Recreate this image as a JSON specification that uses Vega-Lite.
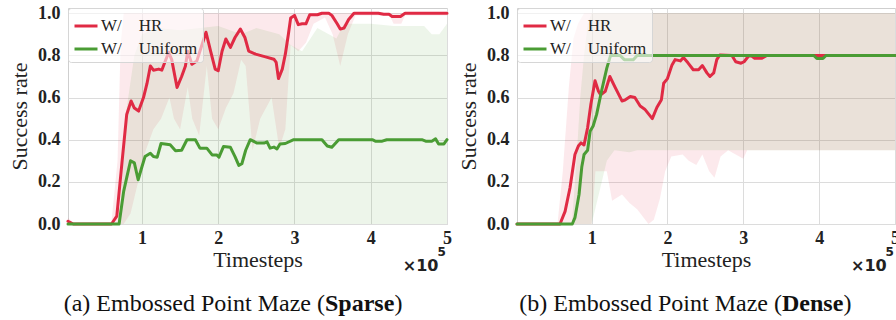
{
  "$schema": "https://vega.github.io/schema/vega-lite/v6.json",
  "padding": {"left": 8, "top": 3, "right": 2, "bottom": 2},
  "bounds": "flush",
  "spacing": 70,
  "background": "white",
  "datasets": {
    "sparse_mean": [
      {"method": "HR", "t": 0.03, "rate": 0.013}, {"method": "HR", "t": 0.1, "rate": 0.0}, {"method": "HR", "t": 0.6, "rate": 0.0},
      {"method": "HR", "t": 0.67, "rate": 0.037}, {"method": "HR", "t": 0.74, "rate": 0.3}, {"method": "HR", "t": 0.8, "rate": 0.52},
      {"method": "HR", "t": 0.857, "rate": 0.584}, {"method": "HR", "t": 0.9, "rate": 0.55}, {"method": "HR", "t": 0.956, "rate": 0.536},
      {"method": "HR", "t": 1.02, "rate": 0.6}, {"method": "HR", "t": 1.066, "rate": 0.667}, {"method": "HR", "t": 1.11, "rate": 0.75},
      {"method": "HR", "t": 1.15, "rate": 0.73}, {"method": "HR", "t": 1.22, "rate": 0.735}, {"method": "HR", "t": 1.26, "rate": 0.73},
      {"method": "HR", "t": 1.35, "rate": 0.815}, {"method": "HR", "t": 1.39, "rate": 0.78}, {"method": "HR", "t": 1.46, "rate": 0.648},
      {"method": "HR", "t": 1.52, "rate": 0.7}, {"method": "HR", "t": 1.57, "rate": 0.75}, {"method": "HR", "t": 1.6, "rate": 0.82},
      {"method": "HR", "t": 1.655, "rate": 0.758}, {"method": "HR", "t": 1.72, "rate": 0.774}, {"method": "HR", "t": 1.79, "rate": 0.854},
      {"method": "HR", "t": 1.84, "rate": 0.91}, {"method": "HR", "t": 1.9, "rate": 0.82}, {"method": "HR", "t": 1.96, "rate": 0.735},
      {"method": "HR", "t": 2.0, "rate": 0.727}, {"method": "HR", "t": 2.05, "rate": 0.82}, {"method": "HR", "t": 2.1, "rate": 0.878},
      {"method": "HR", "t": 2.16, "rate": 0.838}, {"method": "HR", "t": 2.22, "rate": 0.885}, {"method": "HR", "t": 2.29, "rate": 0.925},
      {"method": "HR", "t": 2.35, "rate": 0.885}, {"method": "HR", "t": 2.4, "rate": 0.82}, {"method": "HR", "t": 2.49, "rate": 0.806},
      {"method": "HR", "t": 2.62, "rate": 0.793}, {"method": "HR", "t": 2.73, "rate": 0.782}, {"method": "HR", "t": 2.76, "rate": 0.767},
      {"method": "HR", "t": 2.79, "rate": 0.69}, {"method": "HR", "t": 2.84, "rate": 0.735}, {"method": "HR", "t": 2.88, "rate": 0.806},
      {"method": "HR", "t": 2.92, "rate": 0.9}, {"method": "HR", "t": 2.95, "rate": 0.978}, {"method": "HR", "t": 3.0, "rate": 0.99},
      {"method": "HR", "t": 3.05, "rate": 0.946}, {"method": "HR", "t": 3.1, "rate": 0.95}, {"method": "HR", "t": 3.15, "rate": 0.95},
      {"method": "HR", "t": 3.2, "rate": 0.993}, {"method": "HR", "t": 3.3, "rate": 0.993}, {"method": "HR", "t": 3.36, "rate": 1.0},
      {"method": "HR", "t": 3.45, "rate": 1.0}, {"method": "HR", "t": 3.49, "rate": 0.99}, {"method": "HR", "t": 3.56, "rate": 0.95},
      {"method": "HR", "t": 3.6, "rate": 0.925}, {"method": "HR", "t": 3.65, "rate": 0.93}, {"method": "HR", "t": 3.71, "rate": 0.97},
      {"method": "HR", "t": 3.78, "rate": 1.0}, {"method": "HR", "t": 4.1, "rate": 1.0}, {"method": "HR", "t": 4.17, "rate": 0.995},
      {"method": "HR", "t": 4.24, "rate": 0.995}, {"method": "HR", "t": 4.28, "rate": 0.985}, {"method": "HR", "t": 4.39, "rate": 0.985},
      {"method": "HR", "t": 4.45, "rate": 1.0}, {"method": "HR", "t": 5.0, "rate": 1.0},
      {"method": "Uniform", "t": 0.03, "rate": 0.0}, {"method": "Uniform", "t": 0.7, "rate": 0.0}, {"method": "Uniform", "t": 0.76, "rate": 0.155},
      {"method": "Uniform", "t": 0.8, "rate": 0.22}, {"method": "Uniform", "t": 0.85, "rate": 0.3}, {"method": "Uniform", "t": 0.9, "rate": 0.29},
      {"method": "Uniform", "t": 0.95, "rate": 0.21}, {"method": "Uniform", "t": 0.99, "rate": 0.26}, {"method": "Uniform", "t": 1.04, "rate": 0.32},
      {"method": "Uniform", "t": 1.11, "rate": 0.336}, {"method": "Uniform", "t": 1.15, "rate": 0.32}, {"method": "Uniform", "t": 1.2, "rate": 0.317},
      {"method": "Uniform", "t": 1.25, "rate": 0.382}, {"method": "Uniform", "t": 1.3, "rate": 0.38}, {"method": "Uniform", "t": 1.37, "rate": 0.376},
      {"method": "Uniform", "t": 1.44, "rate": 0.348}, {"method": "Uniform", "t": 1.52, "rate": 0.35}, {"method": "Uniform", "t": 1.59, "rate": 0.4},
      {"method": "Uniform", "t": 1.7, "rate": 0.4}, {"method": "Uniform", "t": 1.76, "rate": 0.36}, {"method": "Uniform", "t": 1.85, "rate": 0.36},
      {"method": "Uniform", "t": 1.92, "rate": 0.328}, {"method": "Uniform", "t": 1.98, "rate": 0.328}, {"method": "Uniform", "t": 2.01, "rate": 0.317},
      {"method": "Uniform", "t": 2.07, "rate": 0.368}, {"method": "Uniform", "t": 2.16, "rate": 0.364}, {"method": "Uniform", "t": 2.22, "rate": 0.32},
      {"method": "Uniform", "t": 2.27, "rate": 0.278}, {"method": "Uniform", "t": 2.31, "rate": 0.286}, {"method": "Uniform", "t": 2.36, "rate": 0.35},
      {"method": "Uniform", "t": 2.42, "rate": 0.4}, {"method": "Uniform", "t": 2.51, "rate": 0.384}, {"method": "Uniform", "t": 2.6, "rate": 0.384},
      {"method": "Uniform", "t": 2.64, "rate": 0.39}, {"method": "Uniform", "t": 2.68, "rate": 0.36}, {"method": "Uniform", "t": 2.73, "rate": 0.365},
      {"method": "Uniform", "t": 2.77, "rate": 0.356}, {"method": "Uniform", "t": 2.81, "rate": 0.38}, {"method": "Uniform", "t": 2.88, "rate": 0.382},
      {"method": "Uniform", "t": 2.99, "rate": 0.4}, {"method": "Uniform", "t": 3.36, "rate": 0.4}, {"method": "Uniform", "t": 3.43, "rate": 0.37},
      {"method": "Uniform", "t": 3.49, "rate": 0.364}, {"method": "Uniform", "t": 3.58, "rate": 0.4}, {"method": "Uniform", "t": 4.02, "rate": 0.4},
      {"method": "Uniform", "t": 4.06, "rate": 0.393}, {"method": "Uniform", "t": 4.15, "rate": 0.393}, {"method": "Uniform", "t": 4.21, "rate": 0.4},
      {"method": "Uniform", "t": 4.67, "rate": 0.4}, {"method": "Uniform", "t": 4.72, "rate": 0.393}, {"method": "Uniform", "t": 4.8, "rate": 0.393},
      {"method": "Uniform", "t": 4.85, "rate": 0.404}, {"method": "Uniform", "t": 4.89, "rate": 0.38}, {"method": "Uniform", "t": 4.96, "rate": 0.38},
      {"method": "Uniform", "t": 5.0, "rate": 0.4}
    ],
    "sparse_band": [
      {"method": "HR", "t": 0.03, "lo": 0, "hi": 0.03}, {"method": "HR", "t": 0.1, "lo": 0, "hi": 0.005}, {"method": "HR", "t": 0.6, "lo": 0, "hi": 0.01},
      {"method": "HR", "t": 0.68, "lo": 0, "hi": 0.3}, {"method": "HR", "t": 0.72, "lo": 0, "hi": 0.85}, {"method": "HR", "t": 0.76, "lo": 0, "hi": 1.0},
      {"method": "HR", "t": 0.85, "lo": 0.05, "hi": 1.0}, {"method": "HR", "t": 0.95, "lo": 0.2, "hi": 1.0}, {"method": "HR", "t": 1.05, "lo": 0.35, "hi": 1.0},
      {"method": "HR", "t": 1.15, "lo": 0.45, "hi": 1.0}, {"method": "HR", "t": 1.25, "lo": 0.5, "hi": 1.0}, {"method": "HR", "t": 1.36, "lo": 0.6, "hi": 1.0},
      {"method": "HR", "t": 1.42, "lo": 0.5, "hi": 1.0}, {"method": "HR", "t": 1.5, "lo": 0.45, "hi": 1.0}, {"method": "HR", "t": 1.6, "lo": 0.65, "hi": 1.0},
      {"method": "HR", "t": 1.66, "lo": 0.5, "hi": 1.0}, {"method": "HR", "t": 1.75, "lo": 0.42, "hi": 1.0}, {"method": "HR", "t": 1.85, "lo": 0.75, "hi": 1.0},
      {"method": "HR", "t": 1.92, "lo": 0.5, "hi": 1.0}, {"method": "HR", "t": 2.0, "lo": 0.45, "hi": 1.0}, {"method": "HR", "t": 2.1, "lo": 0.55, "hi": 1.0},
      {"method": "HR", "t": 2.2, "lo": 0.62, "hi": 1.0}, {"method": "HR", "t": 2.3, "lo": 0.78, "hi": 1.0}, {"method": "HR", "t": 2.36, "lo": 0.75, "hi": 1.0},
      {"method": "HR", "t": 2.45, "lo": 0.35, "hi": 1.0}, {"method": "HR", "t": 2.55, "lo": 0.5, "hi": 1.0}, {"method": "HR", "t": 2.7, "lo": 0.6, "hi": 1.0},
      {"method": "HR", "t": 2.8, "lo": 0.36, "hi": 1.0}, {"method": "HR", "t": 2.88, "lo": 0.45, "hi": 1.0}, {"method": "HR", "t": 2.95, "lo": 0.85, "hi": 1.0},
      {"method": "HR", "t": 3.05, "lo": 0.82, "hi": 1.0}, {"method": "HR", "t": 3.15, "lo": 0.86, "hi": 1.0}, {"method": "HR", "t": 3.25, "lo": 0.95, "hi": 1.0},
      {"method": "HR", "t": 3.4, "lo": 0.98, "hi": 1.0}, {"method": "HR", "t": 3.5, "lo": 0.9, "hi": 1.0}, {"method": "HR", "t": 3.6, "lo": 0.75, "hi": 1.0},
      {"method": "HR", "t": 3.7, "lo": 0.9, "hi": 1.0}, {"method": "HR", "t": 3.8, "lo": 0.99, "hi": 1.0}, {"method": "HR", "t": 4.25, "lo": 0.99, "hi": 1.0},
      {"method": "HR", "t": 4.3, "lo": 0.95, "hi": 1.0}, {"method": "HR", "t": 4.4, "lo": 0.95, "hi": 1.0}, {"method": "HR", "t": 4.45, "lo": 0.99, "hi": 1.0},
      {"method": "HR", "t": 5.0, "lo": 0.99, "hi": 1.0},
      {"method": "Uniform", "t": 0.03, "lo": 0, "hi": 0}, {"method": "Uniform", "t": 0.68, "lo": 0, "hi": 0}, {"method": "Uniform", "t": 0.72, "lo": 0, "hi": 0.1},
      {"method": "Uniform", "t": 0.8, "lo": 0, "hi": 0.55}, {"method": "Uniform", "t": 0.9, "lo": 0, "hi": 0.8}, {"method": "Uniform", "t": 1.0, "lo": 0, "hi": 0.9},
      {"method": "Uniform", "t": 1.2, "lo": 0, "hi": 0.93}, {"method": "Uniform", "t": 1.5, "lo": 0, "hi": 0.92}, {"method": "Uniform", "t": 2.0, "lo": 0, "hi": 0.94},
      {"method": "Uniform", "t": 2.3, "lo": 0, "hi": 0.9}, {"method": "Uniform", "t": 2.5, "lo": 0, "hi": 0.93}, {"method": "Uniform", "t": 2.8, "lo": 0, "hi": 0.9},
      {"method": "Uniform", "t": 2.95, "lo": 0, "hi": 0.85}, {"method": "Uniform", "t": 3.1, "lo": 0, "hi": 0.82}, {"method": "Uniform", "t": 3.3, "lo": 0, "hi": 0.93},
      {"method": "Uniform", "t": 3.45, "lo": 0, "hi": 0.9}, {"method": "Uniform", "t": 3.55, "lo": 0, "hi": 0.88}, {"method": "Uniform", "t": 3.65, "lo": 0, "hi": 0.95},
      {"method": "Uniform", "t": 4.0, "lo": 0, "hi": 0.95}, {"method": "Uniform", "t": 4.3, "lo": 0, "hi": 0.94}, {"method": "Uniform", "t": 4.7, "lo": 0, "hi": 0.94},
      {"method": "Uniform", "t": 4.8, "lo": 0, "hi": 0.9}, {"method": "Uniform", "t": 4.9, "lo": 0, "hi": 0.9}, {"method": "Uniform", "t": 5.0, "lo": 0, "hi": 0.95}
    ],
    "dense_mean": [
      {"method": "HR", "t": 0.016, "rate": 0.0}, {"method": "HR", "t": 0.583, "rate": 0.0}, {"method": "HR", "t": 0.65, "rate": 0.06},
      {"method": "HR", "t": 0.715, "rate": 0.172}, {"method": "HR", "t": 0.78, "rate": 0.33}, {"method": "HR", "t": 0.825, "rate": 0.37},
      {"method": "HR", "t": 0.86, "rate": 0.385}, {"method": "HR", "t": 0.9, "rate": 0.375}, {"method": "HR", "t": 0.947, "rate": 0.457},
      {"method": "HR", "t": 0.99, "rate": 0.568}, {"method": "HR", "t": 1.045, "rate": 0.68}, {"method": "HR", "t": 1.09, "rate": 0.63},
      {"method": "HR", "t": 1.12, "rate": 0.613}, {"method": "HR", "t": 1.18, "rate": 0.63}, {"method": "HR", "t": 1.24, "rate": 0.7},
      {"method": "HR", "t": 1.31, "rate": 0.648}, {"method": "HR", "t": 1.4, "rate": 0.584}, {"method": "HR", "t": 1.44, "rate": 0.588},
      {"method": "HR", "t": 1.51, "rate": 0.605}, {"method": "HR", "t": 1.57, "rate": 0.6}, {"method": "HR", "t": 1.64, "rate": 0.56},
      {"method": "HR", "t": 1.7, "rate": 0.545}, {"method": "HR", "t": 1.8, "rate": 0.5}, {"method": "HR", "t": 1.86, "rate": 0.553},
      {"method": "HR", "t": 1.92, "rate": 0.59}, {"method": "HR", "t": 1.95, "rate": 0.668}, {"method": "HR", "t": 2.0, "rate": 0.69},
      {"method": "HR", "t": 2.06, "rate": 0.755}, {"method": "HR", "t": 2.1, "rate": 0.78}, {"method": "HR", "t": 2.17, "rate": 0.774},
      {"method": "HR", "t": 2.21, "rate": 0.79}, {"method": "HR", "t": 2.27, "rate": 0.765}, {"method": "HR", "t": 2.34, "rate": 0.732},
      {"method": "HR", "t": 2.41, "rate": 0.732}, {"method": "HR", "t": 2.46, "rate": 0.752}, {"method": "HR", "t": 2.52, "rate": 0.717},
      {"method": "HR", "t": 2.56, "rate": 0.7}, {"method": "HR", "t": 2.61, "rate": 0.717}, {"method": "HR", "t": 2.65, "rate": 0.78},
      {"method": "HR", "t": 2.69, "rate": 0.802}, {"method": "HR", "t": 2.85, "rate": 0.8}, {"method": "HR", "t": 2.9, "rate": 0.77},
      {"method": "HR", "t": 2.97, "rate": 0.763}, {"method": "HR", "t": 3.01, "rate": 0.77}, {"method": "HR", "t": 3.07, "rate": 0.797},
      {"method": "HR", "t": 3.11, "rate": 0.797}, {"method": "HR", "t": 3.15, "rate": 0.786}, {"method": "HR", "t": 3.24, "rate": 0.786},
      {"method": "HR", "t": 3.31, "rate": 0.8}, {"method": "HR", "t": 5.0, "rate": 0.8},
      {"method": "Uniform", "t": 0.016, "rate": 0.0}, {"method": "Uniform", "t": 0.745, "rate": 0.0}, {"method": "Uniform", "t": 0.78, "rate": 0.03},
      {"method": "Uniform", "t": 0.834, "rate": 0.14}, {"method": "Uniform", "t": 0.87, "rate": 0.27}, {"method": "Uniform", "t": 0.9, "rate": 0.33},
      {"method": "Uniform", "t": 0.947, "rate": 0.35}, {"method": "Uniform", "t": 0.98, "rate": 0.44}, {"method": "Uniform", "t": 1.02, "rate": 0.465},
      {"method": "Uniform", "t": 1.066, "rate": 0.52}, {"method": "Uniform", "t": 1.13, "rate": 0.63}, {"method": "Uniform", "t": 1.2, "rate": 0.74},
      {"method": "Uniform", "t": 1.25, "rate": 0.8}, {"method": "Uniform", "t": 1.375, "rate": 0.8}, {"method": "Uniform", "t": 1.43, "rate": 0.78},
      {"method": "Uniform", "t": 1.55, "rate": 0.78}, {"method": "Uniform", "t": 1.6, "rate": 0.8}, {"method": "Uniform", "t": 3.93, "rate": 0.8},
      {"method": "Uniform", "t": 3.97, "rate": 0.785}, {"method": "Uniform", "t": 4.05, "rate": 0.785}, {"method": "Uniform", "t": 4.09, "rate": 0.8},
      {"method": "Uniform", "t": 5.0, "rate": 0.8}
    ],
    "dense_band": [
      {"method": "HR", "t": 0.016, "lo": 0, "hi": 0}, {"method": "HR", "t": 0.55, "lo": 0, "hi": 0}, {"method": "HR", "t": 0.62, "lo": 0, "hi": 0.25},
      {"method": "HR", "t": 0.7, "lo": 0, "hi": 0.65}, {"method": "HR", "t": 0.76, "lo": 0, "hi": 0.88}, {"method": "HR", "t": 0.82, "lo": 0, "hi": 0.95},
      {"method": "HR", "t": 0.9, "lo": 0, "hi": 1.0}, {"method": "HR", "t": 1.0, "lo": 0.0, "hi": 1.0}, {"method": "HR", "t": 1.05, "lo": 0.25, "hi": 1.0},
      {"method": "HR", "t": 1.2, "lo": 0.25, "hi": 1.0}, {"method": "HR", "t": 1.27, "lo": 0.11, "hi": 1.0}, {"method": "HR", "t": 1.4, "lo": 0.14, "hi": 1.0},
      {"method": "HR", "t": 1.5, "lo": 0.1, "hi": 1.0}, {"method": "HR", "t": 1.6, "lo": 0.07, "hi": 1.0}, {"method": "HR", "t": 1.75, "lo": 0.0, "hi": 1.0},
      {"method": "HR", "t": 1.82, "lo": 0.02, "hi": 1.0}, {"method": "HR", "t": 1.9, "lo": 0.12, "hi": 1.0}, {"method": "HR", "t": 1.97, "lo": 0.25, "hi": 1.0},
      {"method": "HR", "t": 2.05, "lo": 0.32, "hi": 1.0}, {"method": "HR", "t": 2.2, "lo": 0.33, "hi": 1.0}, {"method": "HR", "t": 2.28, "lo": 0.3, "hi": 1.0},
      {"method": "HR", "t": 2.38, "lo": 0.28, "hi": 1.0}, {"method": "HR", "t": 2.46, "lo": 0.33, "hi": 1.0}, {"method": "HR", "t": 2.55, "lo": 0.25, "hi": 1.0},
      {"method": "HR", "t": 2.62, "lo": 0.22, "hi": 1.0}, {"method": "HR", "t": 2.7, "lo": 0.32, "hi": 1.0}, {"method": "HR", "t": 2.8, "lo": 0.35, "hi": 1.0},
      {"method": "HR", "t": 2.9, "lo": 0.33, "hi": 1.0}, {"method": "HR", "t": 3.0, "lo": 0.31, "hi": 1.0}, {"method": "HR", "t": 3.05, "lo": 0.35, "hi": 1.0},
      {"method": "HR", "t": 5.0, "lo": 0.35, "hi": 1.0},
      {"method": "Uniform", "t": 0.016, "lo": 0, "hi": 0}, {"method": "Uniform", "t": 0.74, "lo": 0, "hi": 0}, {"method": "Uniform", "t": 0.8, "lo": 0, "hi": 0.3},
      {"method": "Uniform", "t": 0.85, "lo": 0, "hi": 0.6}, {"method": "Uniform", "t": 0.9, "lo": 0, "hi": 0.8}, {"method": "Uniform", "t": 0.95, "lo": 0, "hi": 0.95},
      {"method": "Uniform", "t": 1.0, "lo": 0, "hi": 1.0}, {"method": "Uniform", "t": 1.1, "lo": 0.15, "hi": 1.0}, {"method": "Uniform", "t": 1.2, "lo": 0.3, "hi": 1.0},
      {"method": "Uniform", "t": 1.3, "lo": 0.35, "hi": 1.0}, {"method": "Uniform", "t": 1.5, "lo": 0.34, "hi": 1.0}, {"method": "Uniform", "t": 1.6, "lo": 0.35, "hi": 1.0},
      {"method": "Uniform", "t": 5.0, "lo": 0.35, "hi": 1.0}
    ]
  },
  "resolve": {"scale": {"color": "independent"}, "legend": {"color": "independent"}},
  "hconcat": [
    {
      "width": 379,
      "height": 216,
      "layer": [
        {
          "data": {"name": "sparse_band"},
          "transform": [{"filter": "datum.method === 'HR'"}],
          "mark": {"type": "area", "opacity": 0.1, "color": "#e02a44"},
          "encoding": {
            "x": {"field": "t", "type": "quantitative", "title": "Timesteps", "scale": {"domain": [0.03, 5], "nice": false, "zero": false},
                  "axis": {"values": [1, 2, 3, 4, 5], "format": "d", "labelFont": "Liberation Serif", "titleFont": "Liberation Serif"}},
            "y": {"field": "lo", "type": "quantitative", "title": "Success rate", "scale": {"domain": [0, 1.025], "nice": false},
                  "axis": {"values": [0, 0.2, 0.4, 0.6, 0.8, 1.0], "format": ".1f", "labelFont": "Liberation Serif", "titleFont": "Liberation Serif"}},
            "y2": {"field": "hi"}
          }
        },
        {
          "data": {"name": "sparse_band"},
          "transform": [{"filter": "datum.method === 'Uniform'"}],
          "mark": {"type": "area", "opacity": 0.1, "color": "#4a9c34"},
          "encoding": {
            "x": {"field": "t", "type": "quantitative", "title": "Timesteps"},
            "y": {"field": "lo", "type": "quantitative", "title": "Success rate"},
            "y2": {"field": "hi"}
          }
        },
        {
          "data": {"name": "sparse_mean"},
          "mark": {"type": "line", "strokeWidth": 3, "strokeJoin": "round", "strokeCap": "round"},
          "encoding": {
            "x": {"field": "t", "type": "quantitative", "title": "Timesteps"},
            "y": {"field": "rate", "type": "quantitative", "title": "Success rate"},
            "color": {"field": "method", "type": "nominal", "scale": {"domain": ["HR", "Uniform"], "range": ["#e02a44", "#4a9c34"]},
                      "legend": {"orient": "top-left", "title": null, "labelExpr": "'W/\u00a0\u00a0\u00a0\u00a0' + datum.label"}},
            "order": {"field": "method", "sort": "descending"}
          }
        },
        {
          "data": {"values": [{"label": "×10", "sup": "5"}]},
          "mark": {"type": "text", "font": "DejaVu Sans", "fontSize": 16, "fontWeight": "bold", "align": "left", "baseline": "middle", "color": "#222"},
          "encoding": {"text": {"field": "label"}, "x": {"datum": 4.42, "type": "quantitative"}, "y": {"datum": -0.2, "type": "quantitative"}}
        },
        {
          "data": {"values": [{"label": "×10", "sup": "5"}]},
          "mark": {"type": "text", "font": "DejaVu Sans", "fontSize": 12, "fontWeight": "bold", "align": "center", "baseline": "middle", "color": "#222"},
          "encoding": {"text": {"field": "sup"}, "x": {"datum": 4.93, "type": "quantitative"}, "y": {"datum": -0.135, "type": "quantitative"}}
        },
        {
          "data": {"values": [{"head": "(a) Embossed Point Maze (", "bold": "Sparse", "tail": ")"}]},
          "layer": [
            {
              "mark": {"type": "text", "font": "Liberation Serif", "fontSize": 24, "align": "right", "baseline": "middle", "color": "#111"},
              "encoding": {"text": {"field": "head"}, "x": {"datum": 3.4, "type": "quantitative"}, "y": {"datum": -0.38, "type": "quantitative"}}
            },
            {
              "mark": {"type": "text", "font": "Liberation Serif", "fontSize": 24, "fontWeight": "bold", "align": "left", "baseline": "middle", "color": "#111"},
              "encoding": {"text": {"field": "bold"}, "x": {"datum": 3.4, "type": "quantitative"}, "y": {"datum": -0.38, "type": "quantitative"}}
            },
            {
              "mark": {"type": "text", "font": "Liberation Serif", "fontSize": 24, "align": "left", "baseline": "middle", "color": "#111"},
              "encoding": {"text": {"field": "tail"}, "x": {"datum": 4.31, "type": "quantitative"}, "y": {"datum": -0.38, "type": "quantitative"}}
            }
          ]
        }
      ]
    },
    {
      "width": 378,
      "height": 216,
      "layer": [
        {
          "data": {"name": "dense_band"},
          "transform": [{"filter": "datum.method === 'HR'"}],
          "mark": {"type": "area", "opacity": 0.1, "color": "#e02a44"},
          "encoding": {
            "x": {"field": "t", "type": "quantitative", "title": "Timesteps", "scale": {"domain": [0.016, 5], "nice": false, "zero": false},
                  "axis": {"values": [1, 2, 3, 4, 5], "format": "d", "labelFont": "Liberation Serif", "titleFont": "Liberation Serif"}},
            "y": {"field": "lo", "type": "quantitative", "title": "Success rate", "scale": {"domain": [0, 1.025], "nice": false},
                  "axis": {"values": [0, 0.2, 0.4, 0.6, 0.8, 1.0], "format": ".1f", "labelFont": "Liberation Serif", "titleFont": "Liberation Serif"}},
            "y2": {"field": "hi"}
          }
        },
        {
          "data": {"name": "dense_band"},
          "transform": [{"filter": "datum.method === 'Uniform'"}],
          "mark": {"type": "area", "opacity": 0.1, "color": "#4a9c34"},
          "encoding": {
            "x": {"field": "t", "type": "quantitative", "title": "Timesteps"},
            "y": {"field": "lo", "type": "quantitative", "title": "Success rate"},
            "y2": {"field": "hi"}
          }
        },
        {
          "data": {"name": "dense_mean"},
          "mark": {"type": "line", "strokeWidth": 3, "strokeJoin": "round", "strokeCap": "round"},
          "encoding": {
            "x": {"field": "t", "type": "quantitative", "title": "Timesteps"},
            "y": {"field": "rate", "type": "quantitative", "title": "Success rate"},
            "color": {"field": "method", "type": "nominal", "scale": {"domain": ["HR", "Uniform"], "range": ["#e02a44", "#4a9c34"]},
                      "legend": {"orient": "top-left", "title": null, "labelExpr": "'W/\u00a0\u00a0\u00a0\u00a0' + datum.label"}},
            "order": {"field": "method", "sort": "descending"}
          }
        },
        {
          "data": {"values": [{"label": "×10", "sup": "5"}]},
          "mark": {"type": "text", "font": "DejaVu Sans", "fontSize": 16, "fontWeight": "bold", "align": "left", "baseline": "middle", "color": "#222"},
          "encoding": {"text": {"field": "label"}, "x": {"datum": 4.42, "type": "quantitative"}, "y": {"datum": -0.2, "type": "quantitative"}}
        },
        {
          "data": {"values": [{"label": "×10", "sup": "5"}]},
          "mark": {"type": "text", "font": "DejaVu Sans", "fontSize": 12, "fontWeight": "bold", "align": "center", "baseline": "middle", "color": "#222"},
          "encoding": {"text": {"field": "sup"}, "x": {"datum": 4.93, "type": "quantitative"}, "y": {"datum": -0.135, "type": "quantitative"}}
        },
        {
          "data": {"values": [{"head": "(b) Embossed Point Maze (", "bold": "Dense", "tail": ")"}]},
          "layer": [
            {
              "mark": {"type": "text", "font": "Liberation Serif", "fontSize": 24, "align": "right", "baseline": "middle", "color": "#111"},
              "encoding": {"text": {"field": "head"}, "x": {"datum": 3.51, "type": "quantitative"}, "y": {"datum": -0.38, "type": "quantitative"}}
            },
            {
              "mark": {"type": "text", "font": "Liberation Serif", "fontSize": 24, "fontWeight": "bold", "align": "left", "baseline": "middle", "color": "#111"},
              "encoding": {"text": {"field": "bold"}, "x": {"datum": 3.51, "type": "quantitative"}, "y": {"datum": -0.38, "type": "quantitative"}}
            },
            {
              "mark": {"type": "text", "font": "Liberation Serif", "fontSize": 24, "align": "left", "baseline": "middle", "color": "#111"},
              "encoding": {"text": {"field": "tail"}, "x": {"datum": 4.32, "type": "quantitative"}, "y": {"datum": -0.38, "type": "quantitative"}}
            }
          ]
        }
      ]
    }
  ],
  "config": {
    "font": "Liberation Serif",
    "view": {"stroke": "#cfcfcf", "strokeWidth": 1},
    "axis": {
      "grid": true, "gridColor": "#dcdcdc", "gridWidth": 1, "domain": false, "ticks": false,
      "labelFont": "Liberation Serif", "labelFontWeight": "bold", "labelFontSize": 18, "labelColor": "#222",
      "titleFont": "Liberation Serif", "titleFontWeight": "normal", "titleFontSize": 22, "titleColor": "#222",
      "labelFlush": false, "labelOverlap": false, "labelBound": false
    },
    "axisX": {"labelPadding": 5, "titlePadding": 2},
    "axisY": {"labelPadding": 8, "titlePadding": 6},
    "legend": {
      "symbolType": "stroke", "symbolSize": 529, "symbolStrokeWidth": 3, "labelFont": "Liberation Serif", "labelFontSize": 17,
      "labelColor": "#222", "padding": 5, "rowPadding": 2, "offset": 0,
      "fillColor": "rgba(255,255,255,0.6)", "strokeColor": "#d6d6d6", "cornerRadius": 3, "labelOffset": 2
    }
  }
}
